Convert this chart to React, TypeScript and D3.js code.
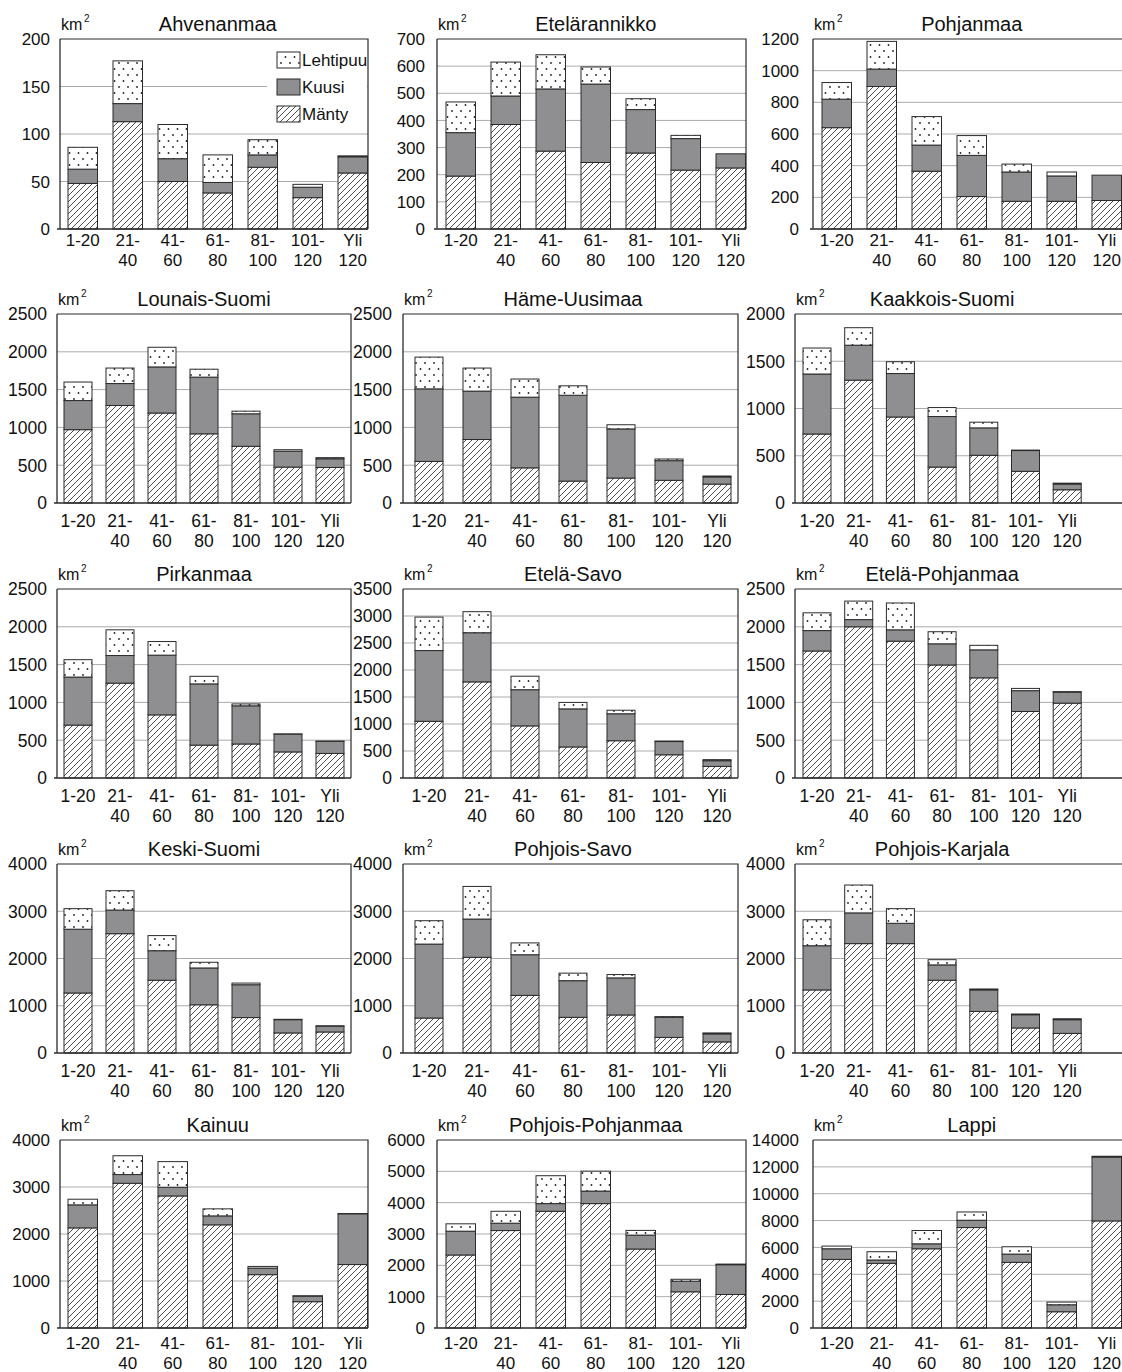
import * as d3 from "d3";

// age classes (x axis)
const categories = ["1-20", "21-40", "41-60", "61-80", "81-100", "101-120", "Yli 120"];
const categoryLines = [["1-20"], ["21-", "40"], ["41-", "60"], ["61-", "80"], ["81-", "100"], ["101-", "120"], ["Yli", "120"]];

const regions = [
  "Ahvenanmaa", "Etelärannikko", "Pohjanmaa",
  "Lounais-Suomi", "Häme-Uusimaa", "Kaakkois-Suomi",
  "Pirkanmaa", "Etelä-Savo", "Etelä-Pohjanmaa",
  "Keski-Suomi", "Pohjois-Savo", "Pohjois-Karjala",
  "Kainuu", "Pohjois-Pohjanmaa", "Lappi",
];

// km2 per age class, one row per region
const manty = [
  [48, 113, 50, 38, 65, 33, 59],
  [195, 385, 287, 245, 280, 217, 225],
  [640, 900, 365, 205, 175, 175, 180],
  [970, 1290, 1190, 915, 750, 475, 470],
  [550, 840, 465, 290, 330, 300, 250],
  [730, 1300, 910, 380, 505, 335, 140],
  [700, 1255, 835, 435, 450, 345, 325],
  [1050, 1780, 965, 575, 690, 430, 215],
  [1680, 2000, 1810, 1495, 1325, 880, 990],
  [1270, 2525, 1540, 1020, 750, 425, 445],
  [740, 2025, 1220, 755, 805, 330, 235],
  [1335, 2315, 2315, 1540, 880, 530, 415],
  [2130, 3080, 2810, 2195, 1135, 560, 1350],
  [2330, 3110, 3725, 3970, 2520, 1155, 1070],
  [5110, 4815, 5900, 7480, 4890, 1210, 7975],
];
const kuusi = [
  [15, 19, 24, 11, 13, 11, 17],
  [160, 105, 229, 289, 160, 116, 52],
  [180, 110, 165, 260, 185, 160, 160],
  [385, 290, 610, 750, 430, 210, 115],
  [960, 640, 935, 1135, 650, 260, 95],
  [635, 370, 460, 535, 290, 220, 60],
  [635, 365, 790, 810, 505, 235, 160],
  [1310, 910, 670, 705, 500, 245, 105],
  [270, 95, 150, 280, 370, 275, 145],
  [1350, 500, 625, 780, 695, 280, 120],
  [1565, 810, 860, 775, 785, 425, 170],
  [935, 650, 430, 325, 455, 280, 290],
  [490, 185, 185, 190, 140, 115, 1080],
  [760, 235, 245, 400, 445, 340, 950],
  [790, 250, 370, 545, 615, 520, 4740],
];
const lehtipuu = [
  [23, 45, 36, 29, 16, 3, 1],
  [113, 125, 126, 63, 40, 12, 0],
  [105, 175, 180, 125, 50, 25, 0],
  [245, 205, 260, 105, 35, 20, 15],
  [420, 305, 240, 125, 55, 22, 12],
  [275, 185, 125, 95, 60, 5, 10],
  [230, 340, 180, 100, 25, 3, 3],
  [620, 390, 250, 120, 65, 10, 20],
  [235, 245, 355, 160, 60, 30, 8],
  [435, 410, 320, 120, 35, 8, 12],
  [495, 690, 250, 160, 70, 15, 20],
  [550, 590, 310, 110, 20, 15, 20],
  [120, 400, 545, 150, 35, 12, 5],
  [235, 380, 890, 635, 150, 60, 20],
  [200, 615, 990, 615, 545, 200, 75],
];

const yMax = [200, 700, 1200, 2500, 2500, 2000, 2500, 3500, 2500, 4000, 4000, 4000, 4000, 6000, 14000];
const yStep = [50, 100, 200, 500, 500, 500, 500, 500, 500, 1000, 1000, 1000, 1000, 1000, 2000];

const seriesKeys = ["Mänty", "Kuusi", "Lehtipuu"];
const legendOrder = ["Lehtipuu", "Kuusi", "Mänty"];

// layout
const rowTop = [39, 314, 589, 864, 1140];
const rowBottom = [229, 503, 778, 1053, 1328];
const wideRows = [0, 4];
const axisWide = [60, 437, 813];
const axisNarrow = [57, 403, 795];
const rightWide = [368, 746, 1130];
const rightNarrow = [351, 738, 1130];
const firstWide = [68, 446, 822];
const firstNarrow = [64, 415, 803];
const stepNarrow = [42, 48, 41.7];
const labelGapWide = [10, 12, 14];
const labelGapNarrow = [10, 11, 10];

const FONT = "'Liberation Sans', Arial, Helvetica, sans-serif";
const DARK = "#2b2b2b";
const GRID = "#ababab";
const GRAY = "#8f8f92";

const fillFor: Record<string, string> = {
  "Mänty": "url(#hatch)",
  "Kuusi": GRAY,
  "Lehtipuu": "url(#dots)",
};

function Panel({ idx }: { idx: number }) {
  const row = Math.floor(idx / 3);
  const col = idx % 3;
  const wide = wideRows.includes(row);
  const x0 = wide ? axisWide[col] : axisNarrow[col];
  const x1 = wide ? rightWide[col] : rightNarrow[col];
  const first = wide ? firstWide[col] : firstNarrow[col];
  const step = wide ? 45 : stepNarrow[col];
  const bw = wide ? 29.5 : 28;
  const gap = wide ? labelGapWide[col] : labelGapNarrow[col];
  const top = rowTop[row];
  const bottom = rowBottom[row];

  const x = d3
    .scaleBand<string>()
    .domain(categories)
    .range([first, first + 6 * step + bw])
    .paddingInner(1 - bw / step)
    .paddingOuter(0);
  const y = d3.scaleLinear().domain([0, yMax[idx]]).range([bottom, top]);
  const ticks = d3.range(0, yMax[idx] + 1, yStep[idx]);

  const rows = categories.map((c, i) => ({
    cat: c,
    "Mänty": manty[idx][i],
    "Kuusi": kuusi[idx][i],
    "Lehtipuu": lehtipuu[idx][i],
  }));
  const stacked = d3.stack<any>().keys(seriesKeys)(rows);

  const [b0, b1] = x.range();
  const titleX = (b0 + b1) / 2;
  const lab1 = wide ? (row === 0 ? 17 : 21) : 24;
  const lab2 = lab1 + 20;
  const tickFont = wide ? 17 : 17.5;

  return (
    <g>
      {/* gridlines */}
      {ticks
        .filter((t) => t > 0 && t < yMax[idx])
        .map((t) => (
          <line key={t} x1={x0} x2={x1} y1={y(t)} y2={y(t)} stroke={GRID} strokeWidth={1} />
        ))}
      {/* frame top/right */}
      <path d={`M${x0},${top}H${x1}V${bottom}`} fill="none" stroke={DARK} strokeWidth={1.2} />

      {/* legend (first panel only) */}
      {idx === 0 && (
        <g>
          <rect x={x1 - 101} y={top + 5} width={100} height={84} fill="#fff" />
          {legendOrder.map((k, i) => (
            <g key={k}>
              <rect
                x={x1 - 91}
                y={top + 13 + i * 27}
                width={23}
                height={16}
                fill={fillFor[k]}
                stroke={DARK}
                strokeWidth={1}
              />
              <text x={x1 - 66} y={top + 27 + i * 27} fontSize={17} fill="#111" fontFamily={FONT}>
                {k}
              </text>
            </g>
          ))}
        </g>
      )}

      {/* bars */}
      {stacked.map((s) =>
        s.map((d: any, i: number) => {
          const h = y(d[0]) - y(d[1]);
          if (h <= 0) return null;
          return (
            <rect
              key={s.key + i}
              x={x(categories[i])}
              y={y(d[1])}
              width={x.bandwidth()}
              height={h}
              fill={fillFor[s.key]}
              stroke={DARK}
              strokeWidth={1}
            />
          );
        })
      )}

      {/* axes */}
      <line x1={x0} x2={x0} y1={top} y2={bottom} stroke={DARK} strokeWidth={1.3} />
      <line x1={x0 - 3} x2={x1} y1={bottom} y2={bottom} stroke={DARK} strokeWidth={1.3} />

      {/* y tick labels */}
      {ticks.map((t) => (
        <text
          key={t}
          x={x0 - gap}
          y={y(t)}
          dy="0.36em"
          textAnchor="end"
          fontSize={tickFont}
          fill="#111"
          fontFamily={FONT}
        >
          {t}
        </text>
      ))}

      {/* x tick labels */}
      {categories.map((c, i) => {
        const cx = (x(c) as number) + x.bandwidth() / 2;
        return categoryLines[i].map((ln, j) => (
          <text
            key={c + j}
            x={cx}
            y={bottom + (j === 0 ? lab1 : lab2)}
            textAnchor="middle"
            fontSize={tickFont}
            fill="#111"
            fontFamily={FONT}
          >
            {ln}
          </text>
        ));
      })}

      {/* unit + title */}
      <text x={x0 + 1} y={top - 9} fontSize={16} fill="#111" fontFamily={FONT}>
        km
      </text>
      <text x={x0 + 24} y={top - 17} fontSize={10} fill="#111" fontFamily={FONT}>
        2
      </text>
      <text x={titleX} y={top - 8} textAnchor="middle" fontSize={20} fill="#111" fontFamily={FONT}>
        {regions[idx]}
      </text>
    </g>
  );
}

export default function App() {
  return (
    <svg
      width={1122}
      height={1372}
      viewBox="0 0 1122 1372"
      style={{ position: "absolute", left: 0, top: 0, background: "#fff" }}
    >
      <defs>
        <pattern id="hatch" patternUnits="userSpaceOnUse" width={6} height={6}>
          <rect width={6} height={6} fill="#fff" />
          <path d="M-1,1 l2,-2 M0,6 l6,-6 M5,7 l2,-2" stroke="#222" strokeWidth={0.8} />
        </pattern>
        <pattern id="dots" patternUnits="userSpaceOnUse" width={9} height={12}>
          <rect width={9} height={12} fill="#fff" />
          <circle cx={2} cy={3} r={0.9} fill="#222" />
          <circle cx={6.5} cy={9} r={0.9} fill="#222" />
        </pattern>
      </defs>
      <rect width={1122} height={1372} fill="#fff" />
      {regions.map((_, i) => (
        <Panel key={i} idx={i} />
      ))}
    </svg>
  );
}
